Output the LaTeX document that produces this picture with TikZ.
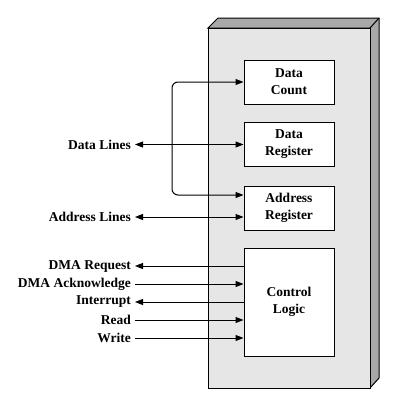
\documentclass[tikz,border=0pt]{standalone}
\usepackage{fontspec}
\setmainfont{Liberation Serif}
\usetikzlibrary{arrows.meta}
\definecolor{facegray}{HTML}{E6E6E6}
\definecolor{sidegray}{HTML}{A8A8A8}
\tikzset{
  reg/.style={draw, fill=white, line width=1pt, minimum width=90pt, minimum height=44pt,
    align=center, font=\fontsize{13.5}{17}\selectfont\bfseries},
  lbl/.style={anchor=east, inner xsep=4pt, inner ysep=1pt, font=\fontsize{13.5}{16}\selectfont\bfseries},
  wire/.style={line width=1pt, >={Triangle[length=8pt,width=6pt]}}
}
\begin{document}
\begin{tikzpicture}[x=1pt,y=-1pt]
  \useasboundingbox (0,0) rectangle (408,402);

  % DMA module panel
  \draw[line width=1pt, fill=sidegray] (208,28) -- (218,18) -- (379,18) -- (379,378) -- (370,388) -- (370,28) -- cycle;
  \draw[line width=1pt] (370,28) -- (379,18);
  \draw[line width=1pt, fill=facegray] (208,28) rectangle (370,388);

  % registers
  \node[reg] (dc) at (289,82) {Data\\Count};
  \node[reg] (dr) at (289,144.5) {Data\\Register};
  \node[reg] (ar) at (289,208) {Address\\Register};
  \node[reg, minimum height=108pt] (cl) at (289,302) {Control\\Logic};

  % external lines
  \node[lbl] (dl) at (135,144.5) {Data Lines};
  \node[lbl] (al) at (135,217) {Address Lines};
  \node[lbl] (rq) at (135,266) {DMA Request};
  \node[lbl] (ak) at (135,284) {DMA Acknowledge};
  \node[lbl] (ir) at (135,302) {Interrupt};
  \node[lbl] (rd) at (135,320) {Read};
  \node[lbl] (wr) at (135,338) {Write};

  % data bus
  \coordinate (bus) at (172,144.5);
  \draw[wire, <->, rounded corners=6pt] (dc.west) -| (bus) |- ([yshift=13pt]ar.west);
  \draw[wire, <->] (dl.east) -- (dr.west);
  \draw[wire, <->] (al.east) -- (al.east -| ar.west);

  % control signals
  \draw[wire, <-] (rq.east) -- (rq.east -| cl.west);
  \draw[wire, ->] (ak.east) -- (ak.east -| cl.west);
  \draw[wire, <-] (ir.east) -- (ir.east -| cl.west);
  \draw[wire, ->] (rd.east) -- (rd.east -| cl.west);
  \draw[wire, ->] (wr.east) -- (wr.east -| cl.west);
\end{tikzpicture}
\end{document}
